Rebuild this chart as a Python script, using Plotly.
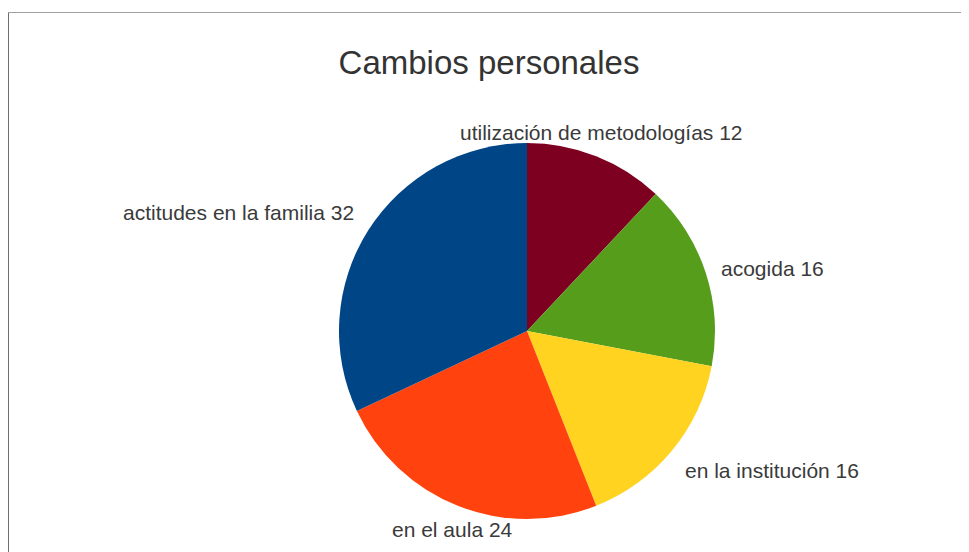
import math

import plotly.graph_objects as go

labels = [
    "utilización de metodologías",
    "acogida",
    "en la institución",
    "en el aula",
    "actitudes en la familia",
]
values = [12, 16, 16, 24, 32]
colors = ["#7e0021", "#579d1c", "#ffd320", "#ff420e", "#004586"]

W, H = 969, 552
# pie placement in figure pixels (the page adds an 8px body offset)
CX, CY, R = 519, 323, 188
LABEL_GAP = 14
FONT = "Liberation Sans, Arial, sans-serif"

fig = go.Figure(
    go.Pie(
        labels=labels,
        values=values,
        sort=False,
        direction="clockwise",
        marker=dict(colors=colors, line=dict(width=0)),
        textinfo="none",
        domain=dict(x=[(CX - R) / W, (CX + R) / W], y=[1 - (CY + R) / H, 1 - (CY - R) / H]),
        showlegend=False,
        hoverinfo="label+value+percent",
    )
)

# outside labels at the middle angle of each slice, aligned like the original
total = sum(values)
cum = 0
for lab, val in zip(labels, values):
    mid = 2 * math.pi * (cum + val / 2) / total
    cum += val
    s, c = math.sin(mid), math.cos(mid)
    px = CX + (R + LABEL_GAP) * s
    py = CY - (R + LABEL_GAP) * c
    xanchor = "center" if abs(s) < 0.42 else ("left" if s > 0 else "right")
    if abs(c) < 0.42:
        yanchor, shift = "middle", 0
    elif c > 0:
        yanchor, shift = "bottom", -3
    else:
        yanchor, shift = "top", 3
    fig.add_annotation(
        x=px / W, y=1 - py / H, xref="paper", yref="paper",
        text=f"{lab} {val}", showarrow=False,
        xanchor=xanchor, yanchor=yanchor, yshift=shift,
        font=dict(family=FONT, size=21, color="#3a3a3a"),
    )

# frame around the chart area (left and top edges visible)
fig.add_shape(type="line", xref="paper", yref="paper",
              x0=0.5 / W, x1=1.05, y0=1 - 4.5 / H, y1=1 - 4.5 / H,
              line=dict(color="#a0a0a0", width=1))
fig.add_shape(type="line", xref="paper", yref="paper",
              x0=0.5 / W, x1=0.5 / W, y0=-0.05, y1=1 - 4.5 / H,
              line=dict(color="#6e6e6e", width=1))

fig.update_layout(
    width=W,
    height=H,
    margin=dict(l=0, r=0, t=0, b=0),
    paper_bgcolor="white",
    plot_bgcolor="white",
    title=dict(
        text="Cambios personales",
        x=481 / W,
        xanchor="center",
        y=1 - 54 / H,
        yanchor="middle",
        font=dict(family=FONT, size=33, color="#333333"),
    ),
)

fig.write_html("out.html")
